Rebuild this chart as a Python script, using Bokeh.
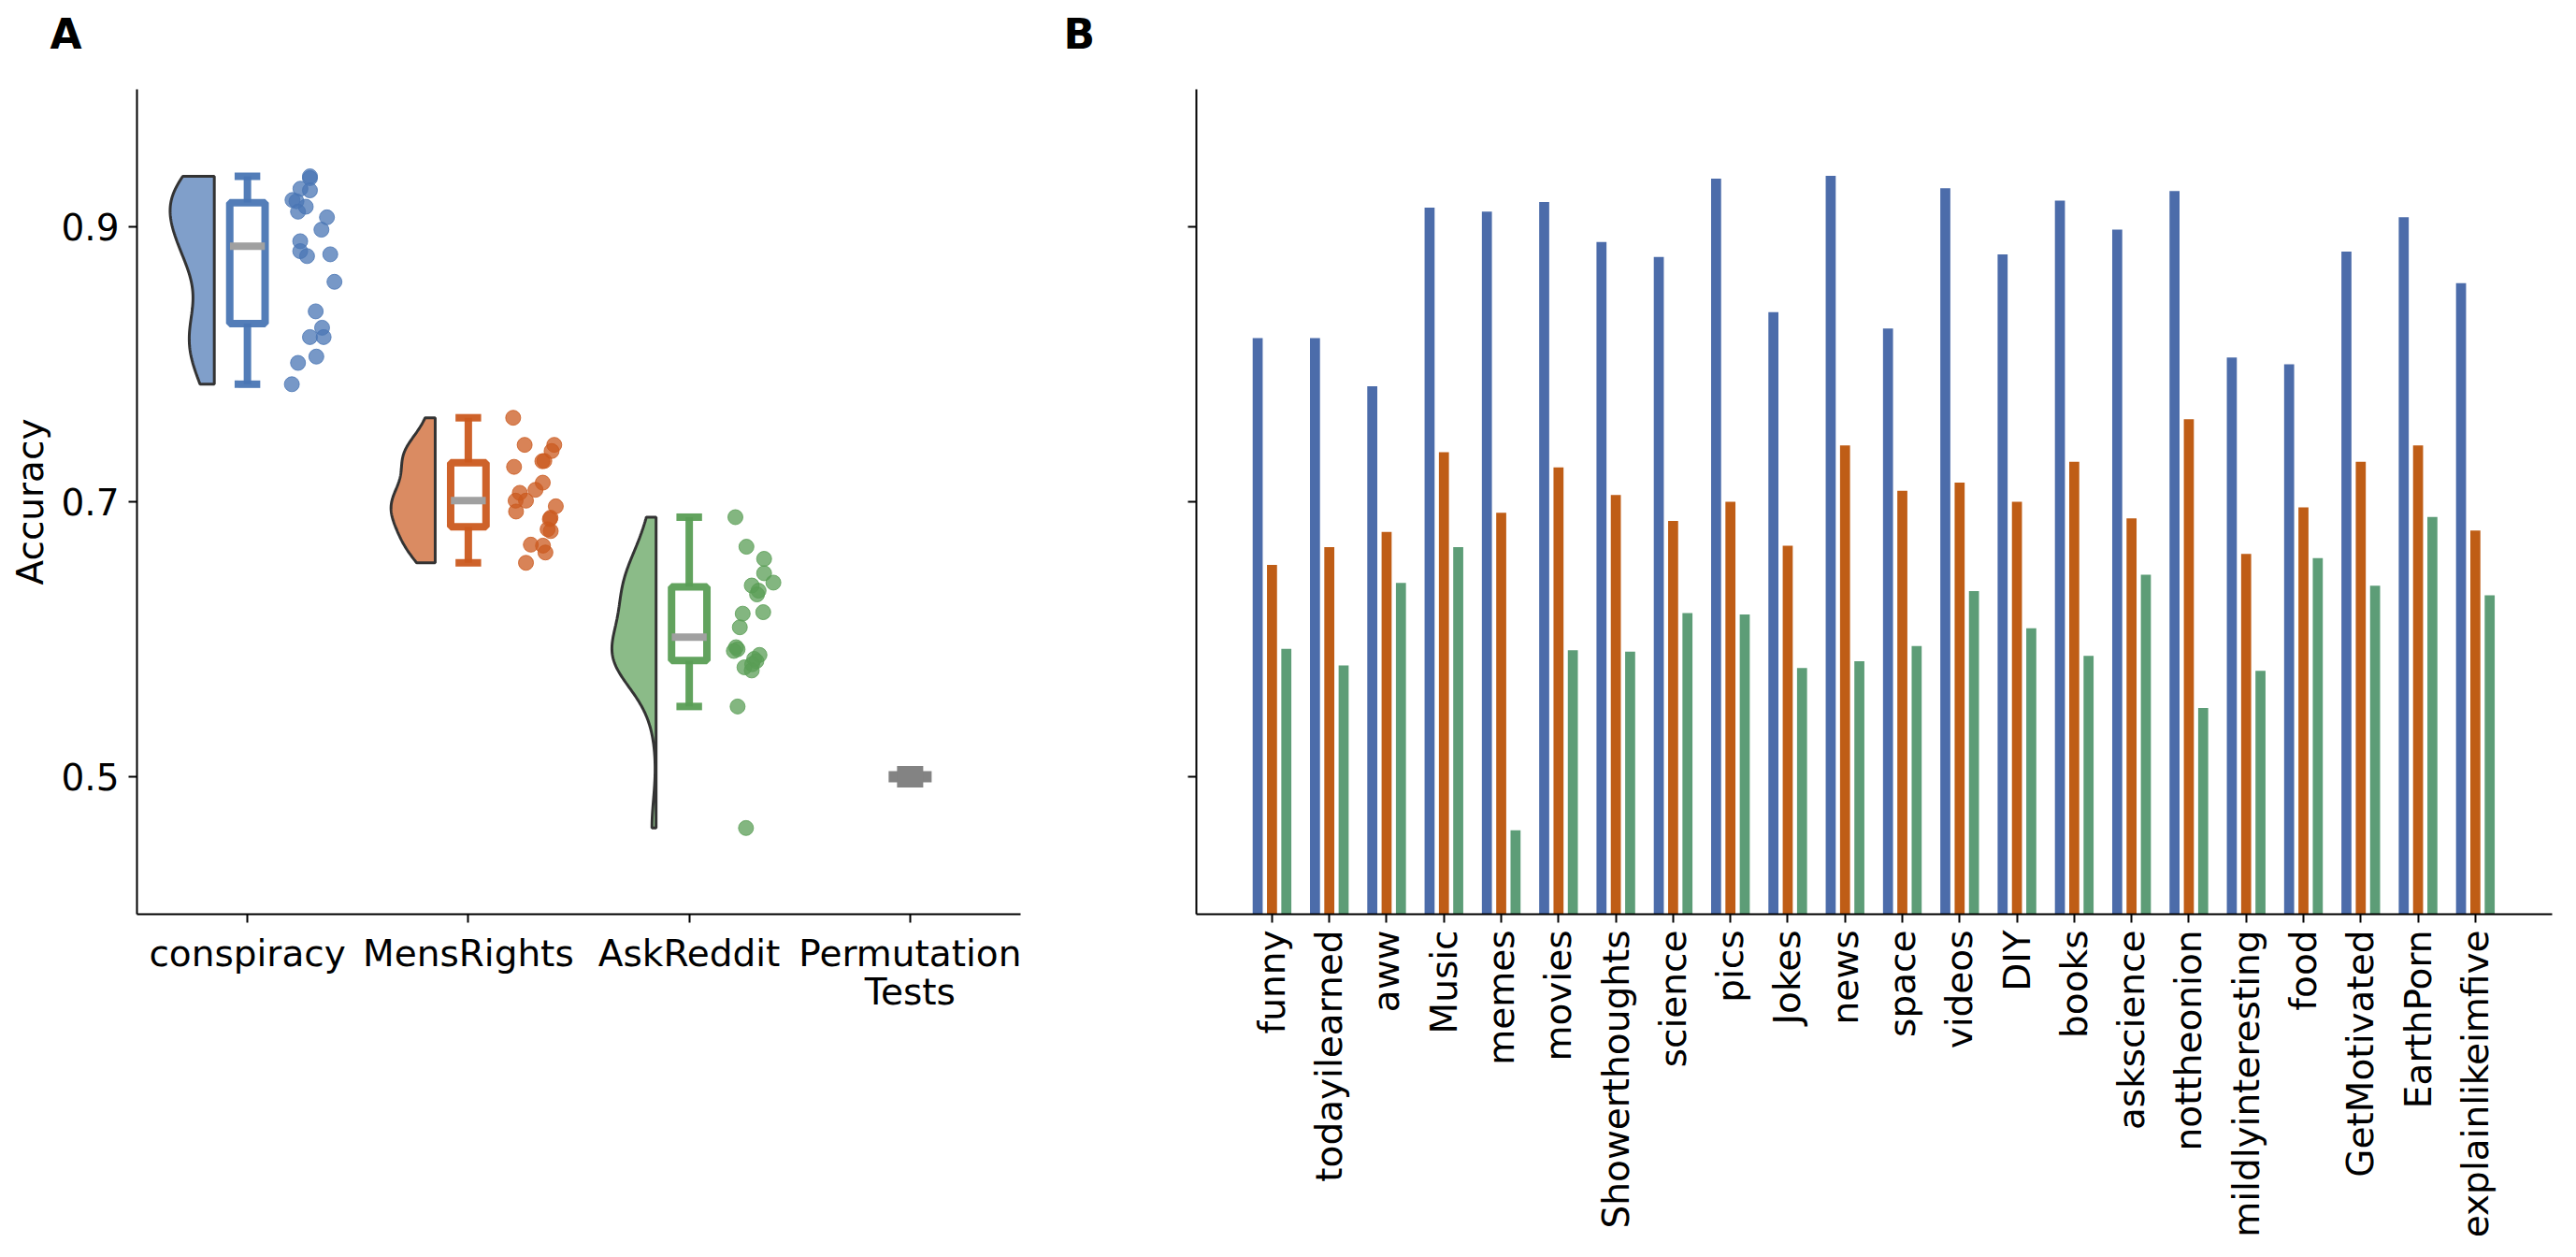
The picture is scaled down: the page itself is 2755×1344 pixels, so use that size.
import numpy as np
from bokeh.plotting import figure
from bokeh.layouts import row
from bokeh.models import FixedTicker, Title
from bokeh.embed import file_html
from bokeh.resources import INLINE

# ---------------- data: panel A ----------------
groups_A = ["conspiracy", "MensRights", "AskReddit", "Permutation\nTests"]

conspiracy_acc = [0.9367, 0.9354, 0.9277, 0.9265, 0.9195, 0.9186, 0.9146, 0.9110, 0.9069, 0.8979, 0.8895,
                  0.8823, 0.8787, 0.8800, 0.8600, 0.8385, 0.8266, 0.8198, 0.8198, 0.8056, 0.8010, 0.7855]
conspiracy_jit = [0.283, 0.283, 0.240, 0.283, 0.204, 0.222, 0.264, 0.229, 0.360, 0.335, 0.239,
                  0.239, 0.270, 0.375, 0.394, 0.309, 0.338, 0.283, 0.345, 0.312, 0.229, 0.201]

mensrights_acc = [0.7611, 0.7414, 0.7414, 0.7369, 0.7297, 0.7295, 0.7254, 0.7139, 0.7087, 0.7065, 0.7008,
                  0.7008, 0.6929, 0.6967, 0.6884, 0.6873, 0.6800, 0.6787, 0.6688, 0.6681, 0.6631, 0.6556]
mensrights_jit = [0.203, 0.255, 0.389, 0.377, 0.344, 0.335, 0.207, 0.337, 0.304, 0.233, 0.214,
                  0.261, 0.216, 0.396, 0.372, 0.369, 0.359, 0.373, 0.283, 0.338, 0.349, 0.261]

askreddit_acc = [0.6888, 0.6673, 0.6585, 0.6480, 0.6412, 0.6391, 0.6353, 0.6326, 0.6186, 0.6197, 0.6087,
                 0.5942, 0.5927, 0.5915, 0.5886, 0.5857, 0.5841, 0.5818, 0.5796, 0.5773, 0.5511, 0.4627]
askreddit_jit = [0.209, 0.259, 0.339, 0.339, 0.381, 0.283, 0.314, 0.307, 0.242, 0.335, 0.229,
                 0.212, 0.219, 0.202, 0.318, 0.294, 0.304, 0.285, 0.250, 0.283, 0.219, 0.257]

permutation_acc = [0.5, 0.5, 0.5, 0.5, 0.5]

yticks = [0.5, 0.7, 0.9]

# ---------------- data: panel B ----------------
subreddits = ["funny", "todayilearned", "aww", "Music", "memes", "movies", "Showerthoughts", "science",
              "pics", "Jokes", "news", "space", "videos", "DIY", "books", "askscience", "nottheonion",
              "mildlyinteresting", "food", "GetMotivated", "EarthPorn", "explainlikeimfive"]
acc_conspiracy_model = [0.819, 0.819, 0.784, 0.914, 0.911, 0.918, 0.889, 0.878, 0.935, 0.838, 0.937,
                        0.826, 0.928, 0.880, 0.919, 0.898, 0.926, 0.805, 0.800, 0.882, 0.907, 0.859]
acc_mensrights_model = [0.654, 0.667, 0.678, 0.736, 0.692, 0.725, 0.705, 0.686, 0.700, 0.668, 0.741,
                        0.708, 0.714, 0.700, 0.729, 0.688, 0.760, 0.662, 0.696, 0.729, 0.741, 0.679]
acc_askreddit_model = [0.593, 0.581, 0.641, 0.667, 0.461, 0.592, 0.591, 0.619, 0.618, 0.579, 0.584,
                       0.595, 0.635, 0.608, 0.588, 0.647, 0.550, 0.577, 0.659, 0.639, 0.689, 0.632]

# ---------------- styling ----------------
FONT = "DejaVu Sans"
colA = ["#4a76b4", "#cb5a1f", "#5a9e55"]
colB = ["#4c6caa", "#bf5d16", "#5d9d77"]
GRAY = "#838383"


def style(p):
    p.outline_line_color = None
    p.grid.visible = False
    p.background_fill_color = "white"
    p.border_fill_color = "white"
    for ax in p.axis:
        ax.axis_line_width = 2
        ax.axis_line_color = "black"
        ax.major_tick_line_width = 2
        ax.major_tick_line_color = "black"
        ax.major_tick_out = 9
        ax.major_tick_in = 0
        ax.minor_tick_line_color = None
        ax.major_label_text_font = FONT
        ax.major_label_text_font_size = "39px"
        ax.major_label_text_color = "black"
        ax.major_label_standoff = 10


def panel_title(p, text, offset):
    # spacer between frame and panel letter (pushes the letter upwards)
    p.add_layout(Title(text=" ", text_font=FONT, text_font_size="20px", standoff=0), "above")
    p.title.text = text
    p.title.align = "left"
    p.title.offset = offset
    p.title.text_font = FONT
    p.title.text_font_size = "44px"
    p.title.text_font_style = "bold"
    p.title.text_color = "black"
    p.title.standoff = 16


def kde(vals, grid, factor=0.45):
    v = np.asarray(vals)
    h = factor * np.std(v, ddof=1)
    d = np.exp(-0.5 * ((grid[:, None] - v[None, :]) / h) ** 2).sum(axis=1)
    return d


# ---------------- panel A ----------------
pA = figure(frame_width=945, frame_height=882, x_range=(-0.5, 3.5), y_range=(0.4, 1.0),
            min_border_left=146, min_border_right=43, min_border_top=93, min_border_bottom=353,
            output_backend="svg", toolbar_location=None)
style(pA)
panel_title(pA, "A", -93)
pA.yaxis.ticker = FixedTicker(ticks=yticks)
pA.xaxis.ticker = FixedTicker(ticks=list(range(len(groups_A))))
pA.xaxis.major_label_overrides = {i: g for i, g in enumerate(groups_A)}
pA.xaxis.major_label_standoff = 10
pA.xaxis.major_label_text_line_height = 0.93
pA.yaxis.axis_label = "Accuracy"
pA.yaxis.axis_label_text_font = FONT
pA.yaxis.axis_label_text_font_size = "39px"
pA.yaxis.axis_label_text_font_style = "normal"
pA.yaxis.axis_label_text_color = "black"
pA.yaxis.axis_label_standoff = 7

VIOL_EDGE = -0.15
VIOL_W = 0.2
BOX_HW = 0.08
CAP_HW = 0.058
MED_HW = 0.079

series = [(conspiracy_acc, conspiracy_jit), (mensrights_acc, mensrights_jit), (askreddit_acc, askreddit_jit)]
for i, (vals, jit) in enumerate(series):
    v = np.asarray(vals)
    c = colA[i]
    # half violin
    grid = np.linspace(v.min(), v.max(), 200)
    d = kde(v, grid)
    w = d / d.max() * VIOL_W
    xs = [i + VIOL_EDGE] + list(i + VIOL_EDGE - w) + [i + VIOL_EDGE]
    ys = [v.min()] + list(grid) + [v.max()]
    pA.patch(xs, ys, fill_color=c, fill_alpha=0.7, line_color="#333333", line_width=3)
    # box
    q1, med, q3 = np.percentile(v, [25, 50, 75])
    iqr = q3 - q1
    lo = v[v >= q1 - 1.5 * iqr].min()
    hi = v[v <= q3 + 1.5 * iqr].max()
    pA.segment(x0=[i, i], y0=[q3, q1], x1=[i, i], y1=[hi, lo], line_color=c, line_width=8, line_alpha=0.95)
    pA.segment(x0=[i - CAP_HW, i - CAP_HW], y0=[hi, lo], x1=[i + CAP_HW, i + CAP_HW], y1=[hi, lo],
               line_color=c, line_width=8, line_alpha=0.95)
    pA.quad(left=[i - BOX_HW], right=[i + BOX_HW], bottom=[q1], top=[q3], fill_color="white",
            line_color=c, line_width=8, line_alpha=0.95)
    pA.segment(x0=[i - MED_HW], y0=[med], x1=[i + MED_HW], y1=[med], line_color="#a0a0a0", line_width=8)
    # points
    pA.scatter(x=list(i + np.asarray(jit)), y=list(v), size=16, fill_color=c, fill_alpha=0.75,
               line_color=c, line_alpha=0.8, line_width=1)

# permutation tests (collapsed distribution)
k = 3
pm = float(np.median(permutation_acc))
pA.rect(x=[k], y=[pm], width=46, height=12, width_units="screen", height_units="screen",
        fill_color=GRAY, line_color=None)
pA.rect(x=[k], y=[pm], width=28, height=23, width_units="screen", height_units="screen",
        fill_color=GRAY, line_color=None)

# ---------------- panel B ----------------
pB = figure(frame_width=1450, frame_height=882, x_range=(-1.32, 22.34), y_range=(0.4, 1.0),
            min_border_left=145, min_border_right=6, min_border_top=93, min_border_bottom=353,
            output_backend="svg", toolbar_location=None)
style(pB)
panel_title(pB, "B", -142)
pB.yaxis.ticker = FixedTicker(ticks=yticks)
pB.yaxis.major_label_overrides = {t: "" for t in yticks}
pB.xaxis.ticker = FixedTicker(ticks=list(range(len(subreddits))))
pB.xaxis.major_label_overrides = {i: s for i, s in enumerate(subreddits)}
pB.xaxis.major_label_orientation = np.pi / 2
pB.xaxis.major_label_standoff = 8

pos = np.arange(len(subreddits))
BAR_W = 0.175
for off, vals, c in [(-0.25, acc_conspiracy_model, colB[0]), (0.0, acc_mensrights_model, colB[1]),
                     (0.25, acc_askreddit_model, colB[2])]:
    pB.vbar(x=list(pos + off), top=vals, bottom=0, width=BAR_W, fill_color=c, line_color=None)

layout = row(pA, pB)
open("out.html", "w").write(file_html(layout, INLINE))
